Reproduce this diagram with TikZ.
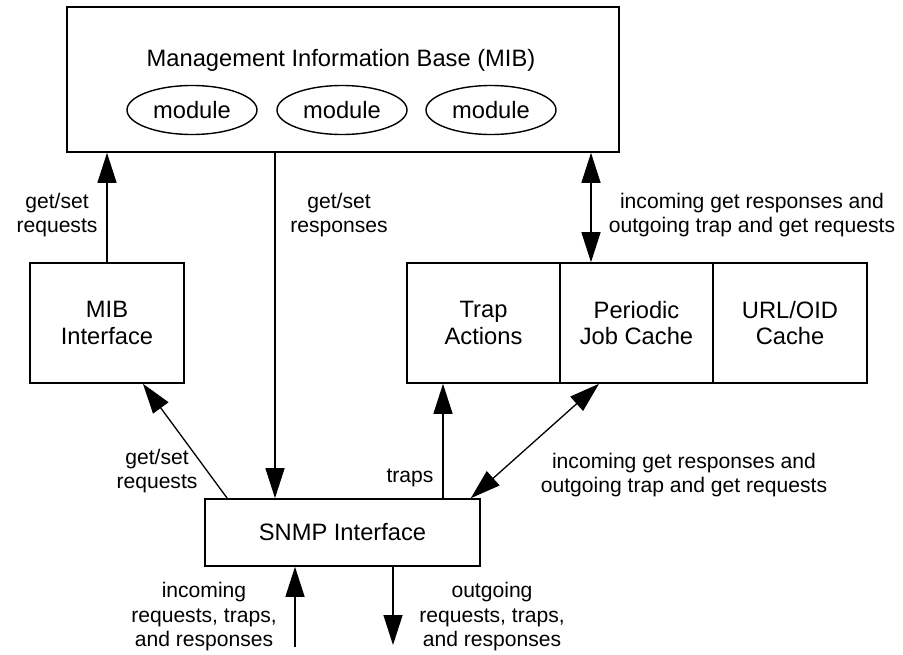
\documentclass[tikz,border=0pt]{standalone}
\usepackage{fontspec}
\setmainfont{Liberation Sans}
\usetikzlibrary{arrows.meta,shapes.geometric}
\begin{document}
\begin{tikzpicture}[x=0.5pt,y=-0.5pt,
  lbl/.style={align=center,inner sep=0pt,font=\fontsize{10.55}{12.25}\selectfont},
  box/.style={draw,line width=0.8pt,inner sep=0pt,align=center,font=\fontsize{11.85}{13.35}\selectfont},
  modl/.style={draw,ellipse,line width=0.7pt,minimum width=65pt,minimum height=24.5pt,inner sep=0pt,font=\fontsize{11.85}{13.35}\selectfont},
  conn/.style={line width=0.65pt,-{Triangle[length=15pt,width=9.5pt]}},
  conntwo/.style={line width=0.65pt,{Triangle[length=15pt,width=9.5pt]}-{Triangle[length=15pt,width=9.5pt]}}]
\useasboundingbox (0,0) rectangle (903,654);
% boxes
\node[box,minimum width=276pt,minimum height=72.5pt] (mib) at (343,79.5) {};
\node[inner sep=0pt,font=\fontsize{11.85}{13.35}\selectfont] (title) at (341,60) {Management Information Base (MIB)};
\node[modl] (m1) at (192,110) {module};
\node[modl] (m2) at (342,110) {module};
\node[modl] (m3) at (491,110) {module};
\node[box,minimum width=77pt,minimum height=60pt] (mibif) at (107,323) {MIB\\Interface};
\node[box,minimum width=76.5pt,minimum height=60pt] (trap) at (483.5,323) {Trap\\Actions};
\node[box,minimum width=76.5pt,minimum height=60pt] (pjc) at (636.5,323) {Periodic\\Job Cache};
\node[box,minimum width=77pt,minimum height=60pt] (url) at (790,323) {URL/OID\\Cache};
\node[box,minimum width=137.5pt,minimum height=33.5pt] (snmp) at (342.5,532.5) {SNMP Interface};
% connectors
\draw[conn] (mibif.north) -- (mibif.north |- mib.south);
\draw[conn] ([xshift=-34pt]mib.south) -- ([xshift=-33.75pt]snmp.north);
\draw[conntwo] ([xshift=124pt]mib.south) -- ([xshift=-22.75pt]pjc.north);
\draw[conn] ([xshift=11.5pt]snmp.north west) -- ([xshift=18pt]mibif.south);
\draw[conn] ([xshift=50.25pt]snmp.north) -- ([xshift=-20.25pt]trap.south);
\draw[conntwo] ([xshift=-5pt]snmp.north east) -- ([xshift=-18.75pt]pjc.south);
\coordinate (inA) at (295,647);
\coordinate (outB) at (393,645);
\draw[conn] (inA) -- (inA |- snmp.south);
\draw[conn] (outB |- snmp.south) -- (outB);
% labels
\node[lbl] (l1) at (57,215) {get/set\\requests};
\node[lbl] (l2) at (339,215) {get/set\\responses};
\node[lbl] (l3) at (752,215) {incoming get responses and\\outgoing trap and get requests};
\node[lbl] (l4) at (157,471) {get/set\\requests};
\node[lbl] (l5) at (410,478) {traps};
\node[lbl] (l6) at (684,475) {incoming get responses and\\outgoing trap and get requests};
\node[lbl] (l7) at (204,617) {incoming\\requests, traps,\\and responses};
\node[lbl] (l8) at (492,617) {outgoing\\requests, traps,\\and responses};
\end{tikzpicture}
\end{document}
